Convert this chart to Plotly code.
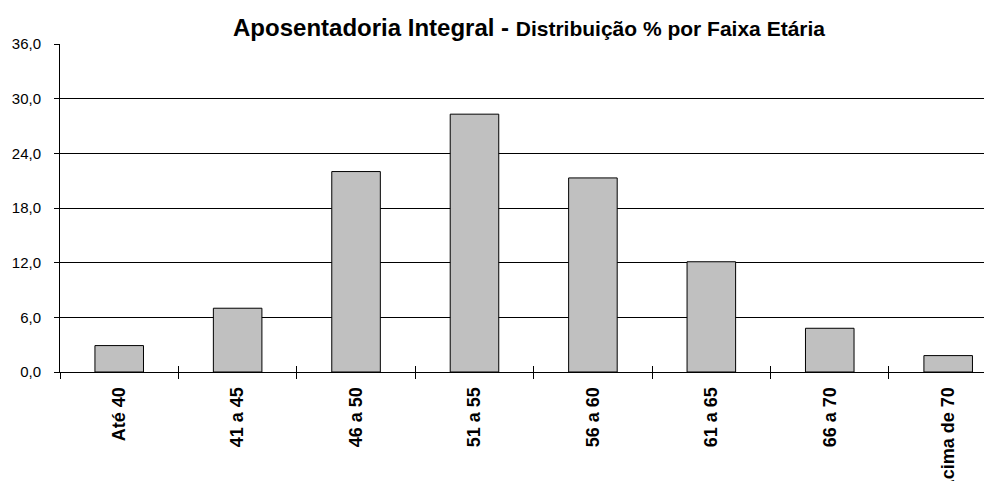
import plotly.graph_objects as go

categories = ["Até 40", "41 a 45", "46 a 50", "51 a 55", "56 a 60", "61 a 65", "66 a 70", "Acima de 70"]
values = [2.9, 7.0, 22.0, 28.3, 21.3, 12.1, 4.8, 1.8]
y_ticks = [0, 6, 12, 18, 24, 30, 36]

fig = go.Figure()
fig.add_trace(go.Bar(
    x=categories, y=values, width=0.41,
    marker=dict(color="#C0C0C0", line=dict(color="black", width=1)),
    hoverinfo="x+y",
))
# invisible trace to carry the secondary (inside-tick) x axis
fig.add_trace(go.Scatter(x=categories, y=values, xaxis="x2", mode="markers",
                         marker=dict(opacity=0), hoverinfo="skip", showlegend=False))

font_family = "Liberation Sans, Arial, sans-serif"
fig.update_layout(
    width=984, height=473,
    margin=dict(l=52, r=0, t=36, b=109, autoexpand=False),
    paper_bgcolor="white", plot_bgcolor="white",
    separators=",.",
    showlegend=False,
    font=dict(family=font_family, color="black"),
    title=dict(
        text="<b>Aposentadoria Integral - <span style='font-size:21px'>Distribuição % por Faixa Etária</span></b>",
        x=0.5295, xanchor="center", y=0.941, yanchor="bottom",
        font=dict(size=24, family=font_family, color="black"),
    ),
    xaxis=dict(
        type="category", range=[-0.5, 7.37], tickson="boundaries",
        ticks="outside", ticklen=6, tickcolor="black", tickwidth=1,
        ticklabelstandoff=7,
        showline=True, linecolor="black", linewidth=1,
        showgrid=False, tickangle=-90, automargin=False,
        tickfont=dict(size=18, family=font_family, color="black", weight="bold"),
    ),
    xaxis2=dict(
        type="category", matches="x", overlaying="x", side="bottom",
        tickson="boundaries", ticks="inside", ticklen=6, tickcolor="black", tickwidth=1,
        showticklabels=False, showline=False, showgrid=False,
    ),
    yaxis=dict(
        range=[0, 36], tickvals=y_ticks, tickformat=".1f",
        ticks="outside", ticklen=5, tickcolor="black", ticklabelstandoff=10,
        showline=True, linecolor="black", linewidth=1,
        showgrid=True, gridcolor="black", gridwidth=1, zeroline=False,
        automargin=False,
        tickfont=dict(size=15, family=font_family, color="black"),
    ),
)

fig.write_html("out.html")
